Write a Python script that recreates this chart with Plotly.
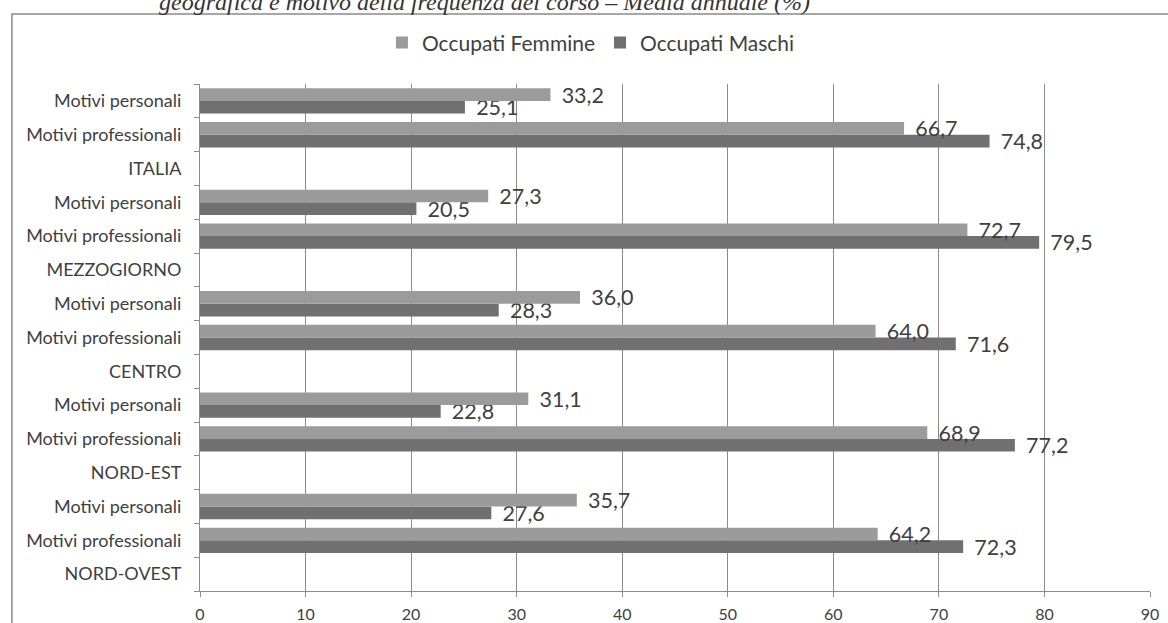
import plotly.graph_objects as go

# Data (top-to-bottom order as shown in the chart)
categories = [
    "Motivi personali", "Motivi professionali", "ITALIA",
    "Motivi personali", "Motivi professionali", "MEZZOGIORNO",
    "Motivi personali", "Motivi professionali", "CENTRO",
    "Motivi personali", "Motivi professionali", "NORD-EST",
    "Motivi personali", "Motivi professionali", "NORD-OVEST",
]
femmine = [33.2, 66.7, None, 27.3, 72.7, None, 36.0, 64.0, None,
           31.1, 68.9, None, 35.7, 64.2, None]
maschi = [25.1, 74.8, None, 20.5, 79.5, None, 28.3, 71.6, None,
          22.8, 77.2, None, 27.6, 72.3, None]
x_ticks = [0, 10, 20, 30, 40, 50, 60, 70, 80, 90]
title_text = "geografica e motivo della frequenza del corso – Media annuale (%)"

n = len(categories)
ypos = [n - 1 - i for i in range(n)]


def fmt(vals):
    return ["" if v is None else "\u00a0\u2009" + f"{v:.1f}".replace(".", ",")
            for v in vals]


FONT = "Lato"
TXT = "#3f3f3f"

fig = go.Figure()
fig.add_trace(go.Bar(
    name="Occupati Maschi", y=ypos, x=maschi, orientation="h",
    marker=dict(color="#707070", line=dict(width=0)),
    text=fmt(maschi), textposition="outside", constraintext="none",
    textfont=dict(family=FONT, size=21.5, color=TXT), cliponaxis=False,
    legendrank=2,
))
fig.add_trace(go.Bar(
    name="Occupati Femmine", y=ypos, x=femmine, orientation="h",
    marker=dict(color="#9b9b9b", line=dict(width=0)),
    text=fmt(femmine), textposition="outside", constraintext="none",
    textfont=dict(family=FONT, size=21.5, color=TXT), cliponaxis=False,
    legendrank=1,
))

fig.update_layout(
    width=1168, height=623,
    margin=dict(l=200, r=18, t=84, b=32, autoexpand=False),
    paper_bgcolor="white", plot_bgcolor="white",
    barmode="group", bargap=0.25, bargroupgap=0,
    font=dict(family=FONT, color=TXT),
    showlegend=True,
    legend=dict(orientation="h", x=0.4115, xanchor="center", y=1.081,
                yanchor="middle", font=dict(size=21, color=TXT),
                bgcolor="rgba(0,0,0,0)", itemwidth=30),
    xaxis=dict(range=[0, 90], tickvals=x_ticks, showgrid=True,
               gridcolor="#8c8c8c", gridwidth=1, zeroline=False,
               showline=True, linecolor="#8c8c8c", linewidth=1,
               ticks="outside", ticklen=5, tickcolor="#8c8c8c",
               ticklabelstandoff=4, automargin=False,
               tickfont=dict(size=16, color=TXT)),
    yaxis=dict(range=[-0.5, n - 0.5], tickvals=ypos, ticktext=categories,
               ticks="", showgrid=False, zeroline=False,
               showline=True, linecolor="#8c8c8c", linewidth=1,
               ticklabelstandoff=14, automargin=False,
               tickfont=dict(size=18, color=TXT),
               minor=dict(tickmode="linear", tick0=-0.5, dtick=1,
                          ticks="outside", ticklen=5, tickcolor="#8c8c8c",
                          showgrid=False)),
    shapes=[dict(type="rect", xref="paper", yref="paper",
                 x0=-0.198, x1=1.1, y0=-0.2, y1=1.138,
                 line=dict(color="#8a8a8a", width=1.5), layer="below")],
    annotations=[dict(text="<i>" + title_text + "</i>", xref="paper",
                      yref="paper", x=0.299, y=1.162, xanchor="center",
                      yanchor="middle", showarrow=False,
                      font=dict(family="Liberation Serif", size=24,
                                color="#333333"))],
)

fig.write_html("out.html",
               config={"displayModeBar": False},
               post_script="document.body.style.margin='0px';"
                           "document.body.style.overflow='hidden';")
